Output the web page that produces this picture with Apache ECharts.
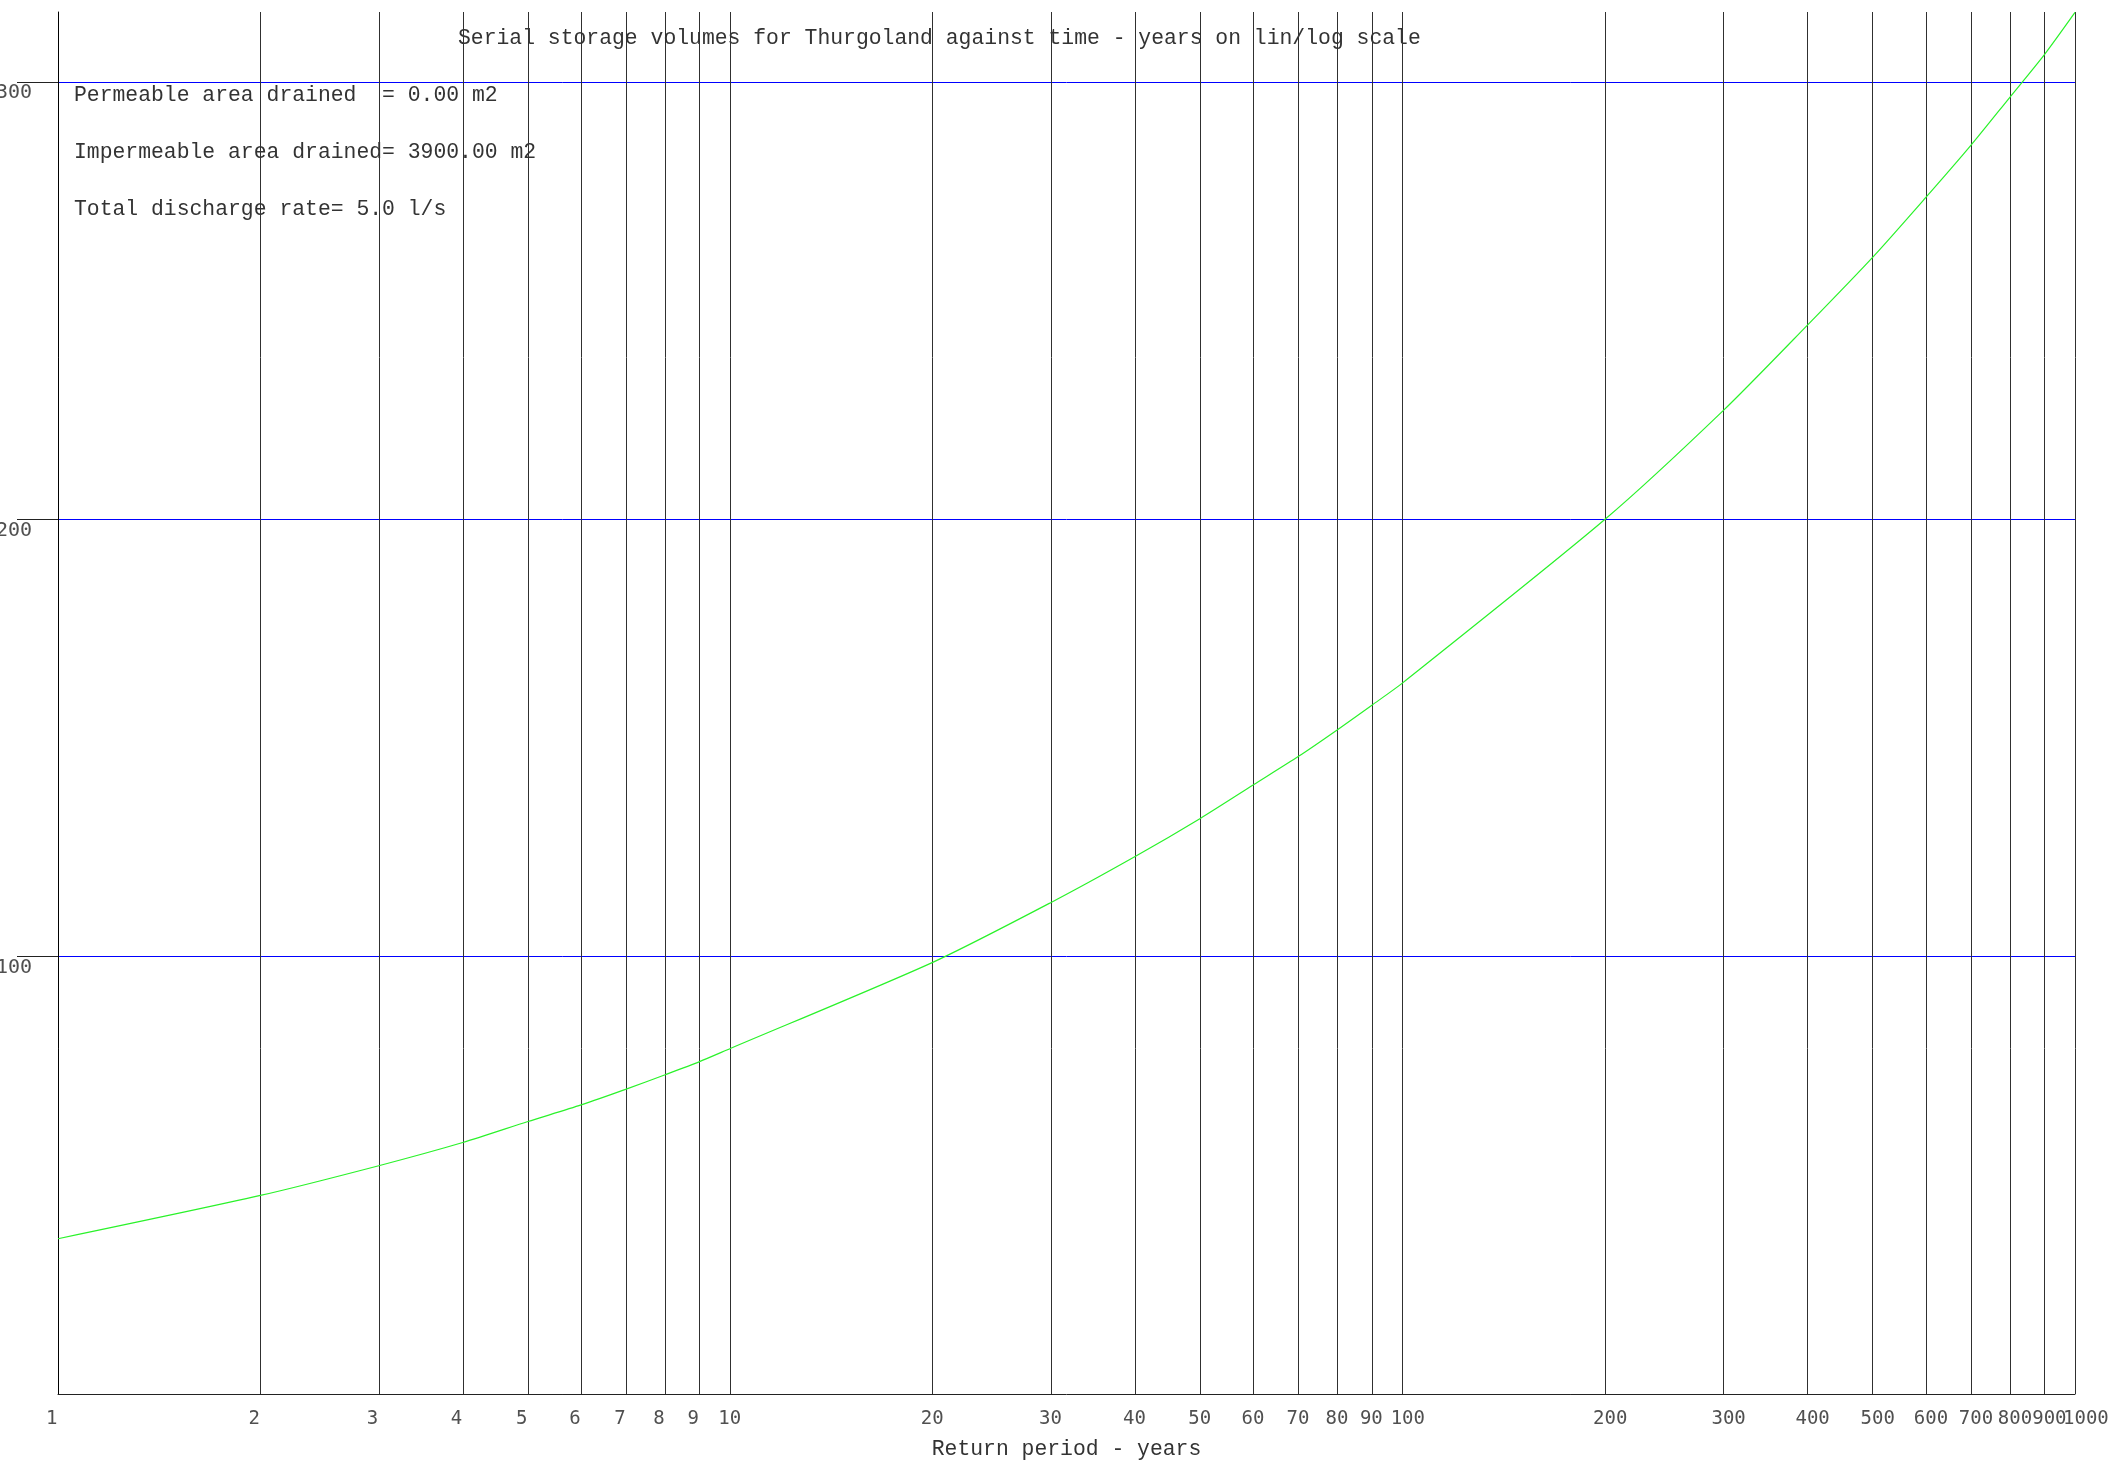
<!DOCTYPE html>
<html>
<head>
<meta charset="utf-8">
<script src="https://cdn.jsdelivr.net/npm/echarts@6/dist/echarts.min.js"></script>
<style>
  html, body { margin: 0; padding: 0; background: #ffffff; }
  #chart { width: 2112px; height: 1462px; }
</style>
</head>
<body>
<div id="chart"></div>
<script>
// Return period (years) and the serial storage volume at each period
const returnPeriods = [1, 2, 3, 4, 5, 6, 7, 8, 9, 10, 20, 30, 40, 50, 60, 70, 80, 90, 100,
                       200, 300, 400, 500, 600, 700, 800, 900, 1000];
const storageVolumes = [35.5, 45.4, 52.2, 57.5, 62.3, 66.1, 69.7, 73.0, 76.0, 79.0,
                        98.7, 112.4, 122.9, 131.6, 139.3, 145.8, 151.9, 157.5, 162.6,
                        200.0, 224.9, 244.4, 259.9, 273.6, 285.5, 296.5, 306.2, 315.9];

// Tick positions on the log (x) and linear (y) axes
const xTickValues = [1, 2, 3, 4, 5, 6, 7, 8, 9, 10, 20, 30, 40, 50, 60, 70, 80, 90, 100,
                     200, 300, 400, 500, 600, 700, 800, 900, 1000];
const yTickValues = [100, 200, 300];

const chartTitle = 'Serial storage volumes for Thurgoland against time - years on lin/log scale';
const xAxisTitle = 'Return period - years';
const infoLines = [
  'Permeable area drained  = 0.00 m2',
  'Impermeable area drained= 3900.00 m2',
  'Total discharge rate= 5.0 l/s'
];

const MONO = '"Liberation Mono", "Courier New", monospace';
const TICK_FONT = '"DejaVu Sans Mono", monospace';
const TEXT_SIZE = 21.4;

const chart = echarts.init(document.getElementById('chart'), null, { renderer: 'canvas' });

const infoY = [95, 152, 209];

// Shared label style for the return-period axis; the crowded end label sits on its
// own overlay axis so that the overlap check does not drop its neighbour.
const xLabelStyle = {
  fontFamily: TICK_FONT,
  fontSize: 19,
  color: '#505050',
  align: 'left',
  padding: [0, 0, 0, -12],
  margin: 16,
  hideOverlap: false,
  formatter: v => String(Math.round(v))
};
const xMainLabels = xTickValues.slice(0, -1);
const xEndLabels = xTickValues.slice(-1);

chart.setOption({
  animation: false,
  backgroundColor: '#ffffff',
  title: {
    text: chartTitle,
    left: 458,
    top: 28,
    padding: 0,
    textStyle: { fontFamily: MONO, fontSize: TEXT_SIZE, fontWeight: 'normal', color: '#333333' }
  },
  grid: { left: 58, right: 37, top: 12, bottom: 68, containLabel: false, outerBoundsMode: 'none' },
  xAxis: [{
    type: 'log',
    logBase: 10,
    min: 1,
    max: 1000,
    position: 'bottom',
    name: xAxisTitle,
    nameLocation: 'middle',
    nameGap: 45,
    nameTextStyle: { fontFamily: MONO, fontSize: TEXT_SIZE, color: '#333333' },
    axisLine: { show: true, lineStyle: { color: '#222222', width: 1 } },
    axisTick: { show: false, customValues: xTickValues },
    axisLabel: Object.assign({ customValues: xMainLabels, showMinLabel: true }, xLabelStyle),
    splitLine: { show: true, lineStyle: { color: '#303030', width: 1 } }
  }, {
    type: 'log',
    logBase: 10,
    min: 1,
    max: 1000,
    position: 'bottom',
    offset: 0,
    axisLine: { show: false },
    axisTick: { show: false, customValues: xEndLabels },
    axisLabel: Object.assign({ customValues: xEndLabels, showMaxLabel: true }, xLabelStyle),
    splitLine: { show: false }
  }],
  yAxis: {
    type: 'value',
    min: 0,
    max: 316,
    axisLine: { show: true, lineStyle: { color: '#000000', width: 1 } },
    axisTick: { show: true, customValues: yTickValues, length: 41, lineStyle: { color: '#222222' } },
    axisLabel: {
      customValues: yTickValues,
      fontFamily: TICK_FONT,
      fontSize: 20,
      color: '#505050',
      align: 'left',
      verticalAlign: 'top',
      margin: 62,
      padding: [1, 0, 0, 0]
    },
    splitLine: { show: true, lineStyle: { color: '#0000ff', width: 1 } }
  },
  series: [{
    type: 'line',
    xAxisIndex: 0,
    data: returnPeriods.map((p, i) => [p, storageVolumes[i]]),
    showSymbol: false,
    smooth: 0.25,
    lineStyle: { color: '#2af22a', width: 1.2 },
    itemStyle: { color: '#2af22a' },
    z: 5
  }],
  graphic: infoLines.map((t, i) => ({
    type: 'text',
    x: 74,
    y: infoY[i],
    z: 10,
    style: { text: t, font: TEXT_SIZE + 'px ' + MONO, fill: '#333333', verticalAlign: 'middle' }
  }))
});
</script>
</body>
</html>
